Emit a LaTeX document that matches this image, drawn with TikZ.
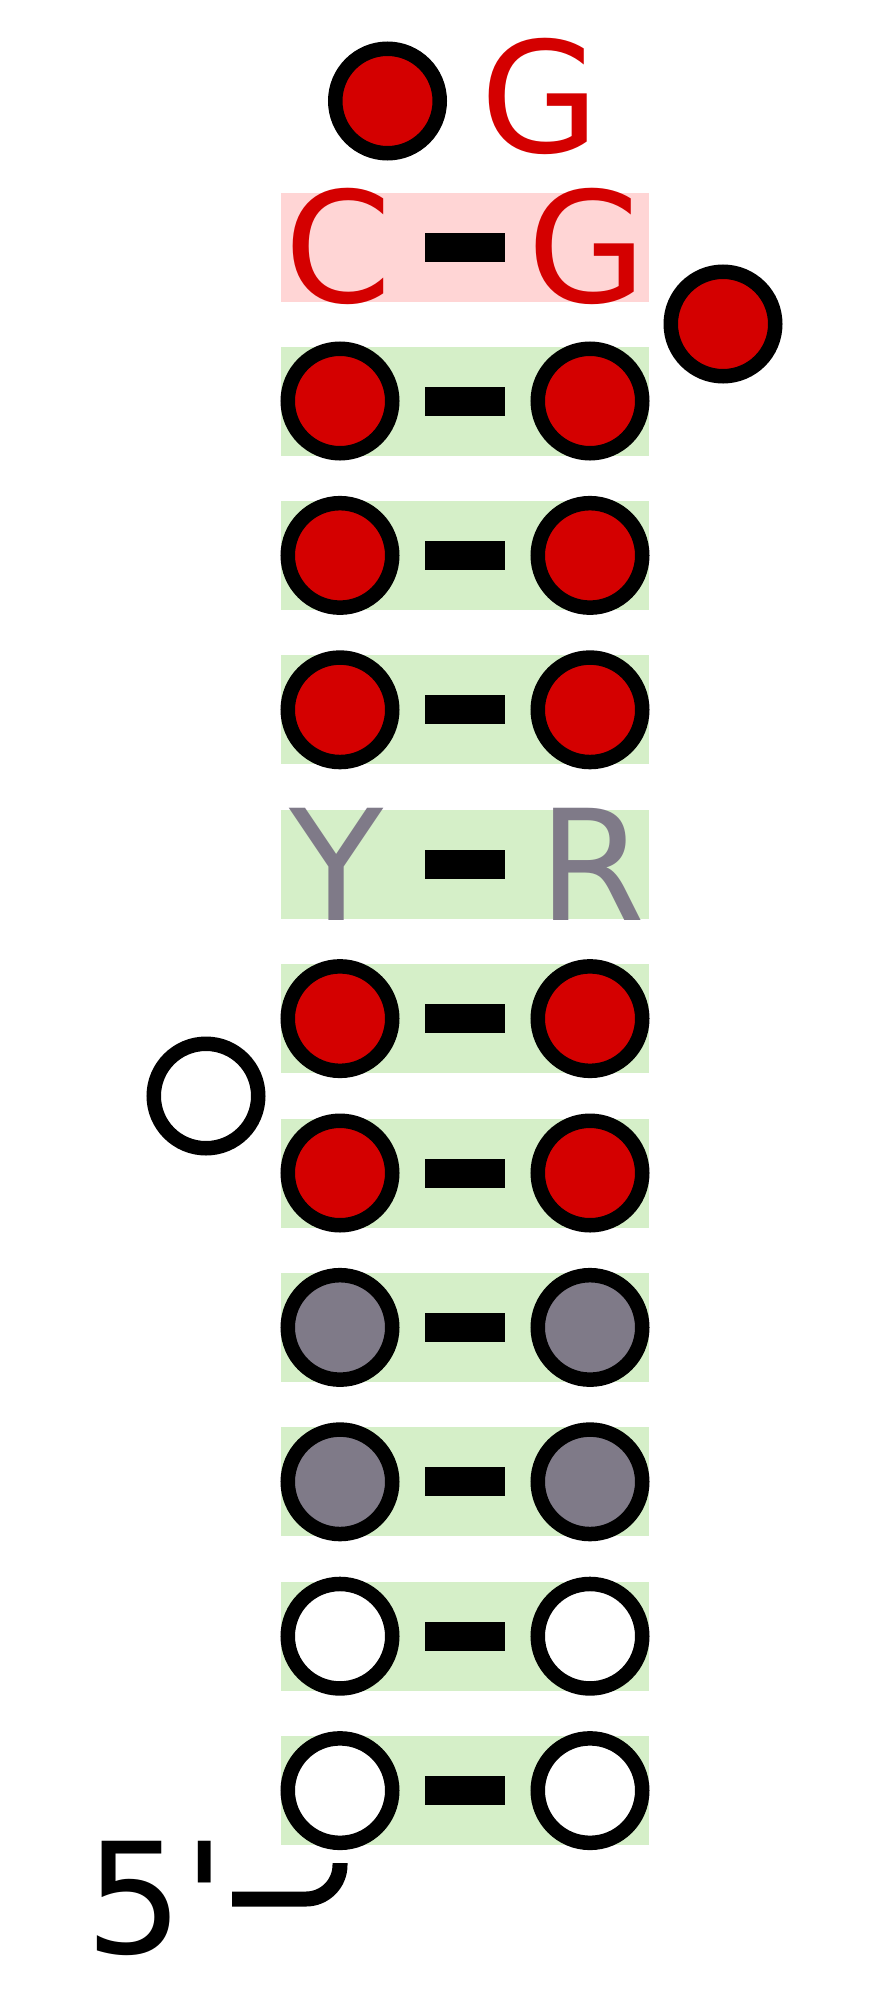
\documentclass[tikz,border=0pt]{standalone}
\usepackage{fontspec}
\newfontfamily\dv{DejaVu Sans}
\definecolor{nred}{HTML}{D40000}
\definecolor{ngray}{HTML}{7F7A88}
\definecolor{pgreen}{HTML}{D5EFC8}
\definecolor{ppink}{HTML}{FFD5D5}
\begin{document}
\begin{tikzpicture}[x=0.5pt,y=-0.5pt,
  nt/.style={circle,draw=black,line width=7.25pt,minimum size=52.25pt,inner sep=0pt},
  redn/.style={nt,fill=nred},
  grayn/.style={nt,fill=ngray},
  whiten/.style={nt,fill=white},
  bond/.style={rectangle,fill=black,draw=none,minimum width=40pt,minimum height=14.5pt,inner sep=0pt},
  pairbox/.style={rectangle,fill=pgreen,draw=none,minimum width=184pt,minimum height=54.5pt,inner sep=0pt},
  letter/.style={font=\dv\fontsize{77pt}{80pt}\selectfont,inner sep=0pt,anchor=base},
  hookline/.style={line width=7.5pt,rounded corners=17pt}
]
\fill[white] (0,0) rectangle (880,1996);
\useasboundingbox (0,0) rectangle (880,1996);

% top unpaired
\node[redn] (t1) at (387.5,101) {};
\node[letter,text=nred] (tG) at (540,153) {G};

% C-G pair
\node[pairbox,fill=ppink] (p0) at (465,247.5) {};
\node[bond] (b0) at (465,247.5) {};
\node[letter,text=nred] (l0) at (338,302.5) {C};
\node[letter,text=nred] (r0) at (587.5,302.5) {G};

% bulges
\node[redn] (xr) at (723,324) {};
\node[whiten] (xl) at (206,1096) {};

% circle pairs
\foreach \i/\kind in {1/redn,2/redn,3/redn,5/redn,6/redn,7/grayn,8/grayn,9/whiten,10/whiten}{
  \pgfmathsetmacro{\yy}{401+(\i-1)*154.4}
  \node[pairbox] (p\i) at (465,\yy) {};
  \node[bond] (b\i) at (465,\yy) {};
  \node[\kind] (l\i) at (340,\yy) {};
  \node[\kind] (r\i) at (590,\yy) {};
}

% Y-R pair
\node[pairbox] (p4) at (465,864.2) {};
\node[bond] (b4) at (465,864.2) {};
\node[letter,text=ngray] (l4) at (337,920) {Y};
\node[letter,text=ngray] (r4) at (592,920) {R};

% 5' end
\coordinate (h0) at (340,1863);
\coordinate (h1) at (232,1899);
\draw[hookline] (h0) |- (h1);
\node[letter,anchor=base west] (five) at (85,1953) {5\symbol{39}};
\end{tikzpicture}
\end{document}
